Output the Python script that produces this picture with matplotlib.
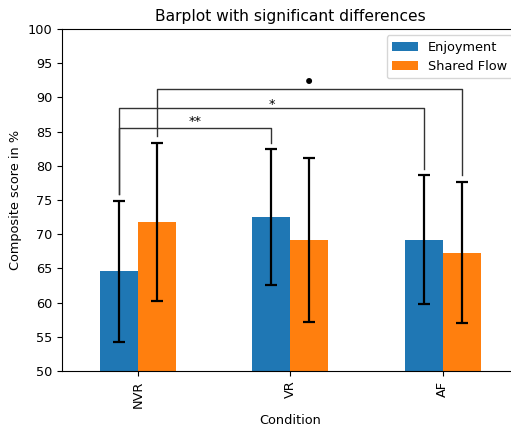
import matplotlib
matplotlib.use('Agg')
import matplotlib.pyplot as plt
import numpy as np
import pandas as pd

conditions = ['NVR', 'VR', 'AF']
enjoyment = [64.6, 72.5, 69.2]
enjoyment_err = [10.3, 9.9, 9.4]
shared_flow = [71.8, 69.1, 67.3]
shared_flow_err = [11.5, 12.0, 10.3]

# (condition a, series a, condition b, series b, label)
significance = [
    ('NVR', 'Enjoyment', 'VR', 'Enjoyment', '**'),
    ('NVR', 'Enjoyment', 'AF', 'Enjoyment', '*'),
    ('NVR', 'Shared Flow', 'AF', 'Shared Flow', '\u2022'),
]

plt.rcParams['font.size'] = 9.3

df = pd.DataFrame({'Enjoyment': enjoyment, 'Shared Flow': shared_flow}, index=conditions)
err = pd.DataFrame({'Enjoyment': enjoyment_err, 'Shared Flow': shared_flow_err}, index=conditions)

fig = plt.figure(figsize=(5.11, 4.28), dpi=100)
ax = fig.add_axes([0.1213, 0.1332, 0.894, 0.799])
df.plot(kind='bar', yerr=err, capsize=4, ax=ax,
        error_kw={'elinewidth': 1.6, 'capthick': 1.6, 'ecolor': 'black'})
ax.set_ylim(50, 100)
ax.set_yticks(np.arange(50, 101, 5))
ax.set_xlabel('Condition')
ax.set_ylabel('Composite score in %')
ax.set_title('Barplot with significant differences')
ax.legend(loc='upper right')

def xpos(cond, series):
    i = conditions.index(cond)
    return i + (-0.125 if series == 'Enjoyment' else 0.125)

def top(cond, series):
    return df.loc[cond, series] + err.loc[cond, series]

label_dy = [0.5, 0.05, 0.0]
label_size = [9.3, 9.3, 15]
level = 85.5
for k, (c1, s1, c2, s2, lab) in enumerate(significance):
    x1, x2 = xpos(c1, s1), xpos(c2, s2)
    y1, y2 = top(c1, s1) + 1, top(c2, s2) + 1
    ax.plot([x1, x1, x2, x2], [y1, level, level, y2], color='#333333', lw=1)
    ax.text((x1 + x2) / 2, level + label_dy[k], lab, ha='center', va='baseline',
            fontsize=label_size[k])
    level += 2.9

fig.savefig('out.png', dpi=100)
